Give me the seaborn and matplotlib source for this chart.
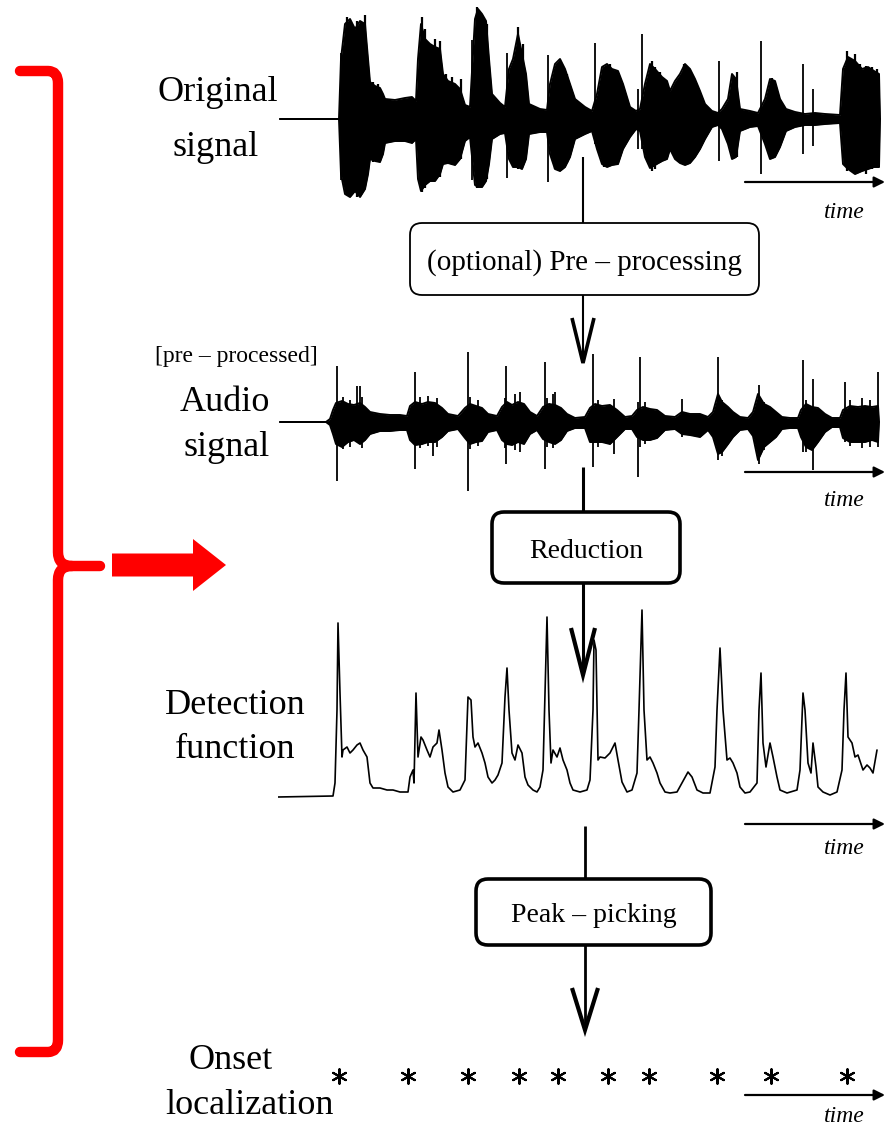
import numpy as np
import pandas as pd
import matplotlib
matplotlib.use("Agg")
import matplotlib.pyplot as plt
import seaborn as sns
from matplotlib.patches import FancyBboxPatch, FancyArrow, PathPatch
from matplotlib.path import Path

# ---------------- data (time in centiseconds, amplitude in arbitrary units) ----------------
orig_t = [2, 61, 63, 67, 72, 77, 82, 87, 90, 92, 97, 102, 105, 107, 117, 127, 134, 138, 140, 143,
          147, 152, 157, 162, 165, 170, 177, 182, 187, 192, 197, 200, 204, 208, 211, 214, 222, 227,
          231, 235, 240, 244, 248, 251, 262, 269, 272, 277, 282, 287, 292, 297, 307, 314, 319, 324,
          329, 334, 340, 345, 352, 358, 362, 367, 372, 377, 384, 389, 392, 397, 402, 407, 412, 417,
          422, 427, 434, 440, 444, 450, 454, 458, 462, 472, 480, 487, 492, 497, 502, 508, 517, 527,
          537, 547, 562, 565, 570, 577, 584, 590, 596, 601, 602]
orig_top = [0, 0, 60, 95, 100, 90, 98, 95, 60, 37, 33, 31, 25, 20, 19, 21, 22, 18, 60, 95,
            80, 75, 72, 70, 45, 38, 35, 30, 14, 12, 100, 110, 105, 98, 60, 25, 16, 12,
            50, 60, 85, 65, 45, 15, 10, 9, 35, 55, 60, 50, 35, 20, 12, 8, 25, 52,
            55, 50, 48, 35, 12, 8, 10, 35, 55, 50, 42, 38, 28, 38, 45, 55, 50, 40,
            28, 15, 8, 6, 10, 20, 45, 40, 10, 8, 6, 20, 40, 38, 20, 10, 7, 5,
            6, 5, 4, 50, 62, 58, 50, 52, 48, 45, 0]
orig_bot = [0, 0, -55, -75, -78, -72, -78, -70, -55, -40, -42, -43, -35, -24, -22, -22, -24, -20, -60, -72,
            -66, -62, -62, -55, -45, -44, -46, -40, -22, -18, -66, -68, -68, -62, -45, -20, -15, -14,
            -40, -48, -48, -50, -40, -15, -13, -13, -35, -50, -52, -48, -38, -20, -15, -12, -30, -45,
            -48, -46, -45, -30, -18, -10, -12, -38, -49, -46, -42, -40, -30, -40, -44, -46, -44, -38,
            -30, -20, -8, -6, -10, -25, -40, -38, -12, -8, -7, -25, -40, -38, -28, -12, -8, -6,
            -6, -5, -4, -45, -50, -55, -52, -50, -48, -48, 0]
orig_spike_t = [63, 194, 229, 270, 317, 360, 364, 441, 483, 525, 535]
orig_spike_top = [66, 79, 66, 64, 76, 30, 85, 58, 78, 55, 30]
orig_spike_bot = [-61, -61, -59, -63, -25, -30, -30, -42, -55, -35, -27]
# short hairs inside the bursts
orig_hair_t = [69, 75, 79, 82, 87, 95, 100, 144, 147, 157, 162, 168, 174, 183, 199, 202, 205, 209,
               240, 245, 277, 282, 289, 326, 332, 374, 377, 382, 406, 459, 494, 569, 577, 582,
               588, 594, 599]
orig_hair_top = [102, 90, 98, 85, 104, 37, 35, 102, 90, 80, 78, 45, 42, 40, 112, 104, 100, 95,
                 92, 75, 50, 57, 45, 50, 55, 58, 52, 47, 55, 47, 41, 68, 65, 55, 53, 52, 50]
orig_hair_bot = [-76, -70, -78, -72, -65, -43, -40, -73, -69, -60, -58, -44, -46, -40, -69, -64, -66, -60,
                 -50, -45, -50, -52, -44, -48, -45, -52, -50, -44, -44, -38, -30, -52, -55, -50,
                 -55, -50, -48]

audio_t = [2, 48, 52, 55, 58, 64, 70, 76, 82, 87, 92, 102, 112, 122, 129, 132, 137, 144, 150, 157,
           164, 170, 180, 187, 192, 198, 204, 210, 219, 224, 229, 234, 240, 246, 252, 259, 265, 271,
           277, 283, 289, 297, 307, 312, 317, 324, 332, 339, 347, 354, 359, 365, 372, 379, 387, 397,
           404, 412, 422, 430, 435, 440, 444, 450, 455, 462, 470, 475, 480, 486, 492, 498, 504, 512,
           520, 523, 528, 534, 540, 547, 554, 562, 565, 572, 580, 587, 594, 600, 601]
audio_top = [0, 0, 3, 12, 19, 21, 18, 17, 19, 15, 10, 8, 7, 7, 6, 16, 20, 18, 20, 19,
             14, 8, 6, 14, 18, 16, 14, 8, 6, 15, 20, 17, 20, 18, 10, 6, 15, 18,
             17, 14, 8, 4, 5, 14, 18, 16, 17, 12, 5, 6, 12, 15, 13, 12, 6, 5,
             10, 8, 8, 5, 10, 28, 20, 15, 10, 5, 4, 10, 28, 18, 15, 10, 5, 4,
             4, 12, 18, 15, 14, 8, 4, 4, 12, 16, 15, 16, 15, 16, 0]
audio_bot = [0, 0, -3, -12, -22, -25, -20, -18, -22, -18, -12, -9, -9, -8, -8, -18, -23, -22, -20, -20,
             -15, -9, -7, -16, -22, -20, -19, -10, -8, -18, -22, -23, -20, -22, -12, -8, -17, -20,
             -22, -18, -9, -6, -6, -20, -20, -20, -22, -15, -7, -7, -15, -18, -18, -16, -8, -7,
             -12, -13, -15, -8, -15, -32, -30, -22, -15, -8, -7, -14, -38, -25, -20, -15, -7, -6,
             -6, -15, -25, -28, -20, -10, -5, -5, -16, -20, -20, -20, -18, -20, 0]
audio_spike_t = [59, 79, 82, 137, 155, 190, 228, 267, 277, 315, 336, 360, 362, 404, 440, 481, 525, 535, 567, 600]
audio_spike_top = [56, 36, 36, 50, 20, 70, 56, 60, 30, 68, 23, 20, 65, 23, 65, 37, 62, 43, 40, 50]
audio_spike_bot = [-59, -20, -20, -47, -34, -69, -42, -47, -20, -45, -32, -55, -25, -15, -38, -42, -30, -48, -20, -25]
audio_hair_t = [65, 72, 84, 142, 150, 159, 192, 200, 227, 237, 242, 269, 275, 320, 367, 444, 486, 528, 572, 584, 592]
audio_hair_top = [25, 22, 25, 25, 26, 24, 25, 22, 24, 28, 30, 24, 28, 22, 20, 22, 20, 22, 22, 24, 22]
audio_hair_bot = [-27, -25, -26, -26, -24, -25, -27, -24, -26, -28, -30, -25, -26, -25, -22, -34, -28, -30, -24, -26, -25]

det_t = [0, 55, 57, 59, 60, 62, 64, 65, 69, 72, 75, 79, 82, 85, 89, 92, 95, 102, 109, 115,
         122, 130, 132, 135, 136, 138, 140, 143, 145, 149, 152, 155, 159, 161, 164, 167, 170, 175,
         182, 187, 190, 193, 195, 197, 200, 204, 207, 210, 214, 217, 220, 224, 227, 229, 231, 234,
         237, 240, 244, 247, 250, 255, 259, 262, 265, 267, 269, 271, 273, 275, 279, 282, 285, 289,
         292, 295, 302, 309, 312, 315, 316, 318, 320, 322, 327, 332, 337, 340, 344, 349, 354, 359,
         361, 364, 366, 369, 372, 375, 379, 382, 387, 392, 399, 404, 410, 414, 419, 425, 432, 437,
         439, 442, 445, 449, 452, 455, 459, 462, 467, 472, 479, 481, 483, 485, 488, 492, 495, 499,
         502, 509, 519, 522, 525, 527, 530, 533, 535, 538, 540, 545, 552, 559, 564, 566, 568, 570,
         574, 577, 580, 585, 589, 592, 595, 599]
det_val = [0, 1, 14, 87, 174, 104, 40, 47, 50, 44, 47, 52, 54, 47, 40, 14, 9, 9, 7, 7,
           5, 5, 20, 27, 14, 104, 40, 60, 57, 47, 40, 50, 54, 67, 47, 24, 10, 5,
           7, 17, 100, 97, 60, 50, 54, 44, 34, 20, 14, 17, 22, 34, 100, 129, 87, 44,
           37, 52, 44, 20, 12, 7, 5, 10, 27, 104, 180, 87, 34, 47, 40, 49, 37, 27,
           14, 7, 5, 7, 17, 87, 157, 147, 37, 40, 39, 44, 54, 37, 15, 5, 7, 24,
           87, 187, 87, 37, 40, 34, 24, 14, 5, 4, 5, 14, 25, 20, 7, 4, 4, 30,
           87, 149, 87, 37, 39, 34, 24, 10, 4, 5, 14, 87, 124, 54, 30, 54, 40, 20,
           7, 4, 7, 27, 104, 87, 34, 24, 54, 30, 10, 5, 2, 5, 27, 87, 124, 60,
           54, 40, 42, 27, 32, 29, 24, 47]

onset_t = [61, 130, 190, 241, 280, 330, 371, 439, 493, 569]
onset_y = [0, 0, 0, 0, 0, 0, 0, 0, 0, 0]

box_labels = ["(optional) Pre – processing", "Reduction", "Peak – picking"]

# ---------------- figure ----------------
sns.set_style("white")
plt.rcParams['font.family'] = ['Liberation Serif', 'DejaVu Serif']
plt.rcParams['text.color'] = 'black'

W, H = 886, 1127
fig = plt.figure(figsize=(W / 100, H / 100), dpi=100)
bg = fig.add_axes([0, 0, 1, 1])
bg.set_xlim(0, W)
bg.set_ylim(H, 0)
bg.axis('off')


def panel(top, bottom, ylo, yhi):
    ax = fig.add_axes([278 / W, 1 - bottom / H, 608 / W, (bottom - top) / H])
    ax.set_xlim(0, 608)
    ax.set_ylim(ylo, yhi)
    ax.axis('off')
    ax.patch.set_visible(False)
    return ax


# original signal
ax1 = panel(0, 210, -91, 119)
ax1.fill_between(orig_t, orig_bot, orig_top, color='black', lw=0)
sns.lineplot(x=orig_t, y=orig_top, ax=ax1, color='black', lw=1.4, sort=False, estimator=None)
sns.lineplot(x=orig_t, y=orig_bot, ax=ax1, color='black', lw=1.4, sort=False, estimator=None)
ax1.vlines(orig_spike_t, orig_spike_bot, orig_spike_top, color='black', lw=1.3)
ax1.vlines(orig_hair_t, orig_hair_bot, orig_hair_top, color='black', lw=1.6)

# pre-processed audio signal
ax2 = panel(340, 500, -78, 82)
ax2.fill_between(audio_t, audio_bot, audio_top, color='black', lw=0)
sns.lineplot(x=audio_t, y=audio_top, ax=ax2, color='black', lw=1.4, sort=False, estimator=None)
sns.lineplot(x=audio_t, y=audio_bot, ax=ax2, color='black', lw=1.4, sort=False, estimator=None)
ax2.vlines(audio_spike_t, audio_spike_bot, audio_spike_top, color='black', lw=1.3)
ax2.vlines(audio_hair_t, audio_hair_bot, audio_hair_top, color='black', lw=1.3)

# detection function
ax3 = panel(600, 810, -13, 197)
sns.lineplot(x=det_t, y=det_val, ax=ax3, color='black', lw=1.2, sort=False, estimator=None)

# onsets
ax4 = panel(1060, 1092, -16, 16)
sns.scatterplot(x=onset_t, y=onset_y, ax=ax4, marker=(6, 2, 0), s=110,
                color='black', edgecolor='black', linewidth=1.5)
ax4.set_xlim(0, 608)
ax4.set_ylim(-16, 16)
ax4.axis('off')

# ---------------- annotations ----------------
fs_lab = 26
bg.text(218, 101, "Original", fontsize=fs_lab, ha='center', va='baseline')
bg.text(216, 156, "signal", fontsize=fs_lab, ha='center', va='baseline')
bg.text(236, 362, "[pre – processed]", fontsize=17, ha='center', va='baseline')
bg.text(225, 411, "Audio", fontsize=fs_lab, ha='center', va='baseline')
bg.text(227, 456, "signal", fontsize=fs_lab, ha='center', va='baseline')
bg.text(235, 714, "Detection", fontsize=fs_lab, ha='center', va='baseline')
bg.text(235, 758, "function", fontsize=fs_lab, ha='center', va='baseline')
bg.text(231, 1069, "Onset", fontsize=fs_lab, ha='center', va='baseline')
bg.text(249, 1114, "localization", fontsize=fs_lab, ha='center', va='baseline')

# time arrows
for ya, yt in [(182, 212), (472, 500), (824, 848), (1095, 1117)]:
    bg.annotate('', xy=(885, ya), xytext=(745, ya),
                arrowprops=dict(arrowstyle='-|>', color='black', lw=1.6,
                                mutation_scale=16, shrinkA=0, shrinkB=0))
    bg.text(844, yt, "time", fontsize=17, style='italic', ha='center', va='center')

# boxes
boxes = [(410, 223, 349, 72, 1.3, box_labels[0], 21),
         (492, 512, 188, 71, 2.6, box_labels[1], 20),
         (476, 879, 235, 66, 2.6, box_labels[2], 20)]
for x0, y0, w, h, lw, lab, fs in boxes:
    bg.add_patch(FancyBboxPatch((x0, y0), w, h, boxstyle="round,pad=0,rounding_size=12",
                                fc='white', ec='black', lw=lw, zorder=3))
    bg.text(x0 + w / 2, y0 + h / 2 + 4, lab, fontsize=fs, ha='center', va='center', zorder=4)

# flow lines and open arrowheads
flow = [((583, 157), (583, 223), 1.5), ((583, 295), (583, 362), 1.5),
        ((583, 467), (583, 512), 2.2), ((583, 583), (583, 674), 2.2),
        ((585, 826), (585, 879), 2.0), ((585, 945), (585, 1029), 2.0)]
for (xa, ya), (xb, yb), lw in flow:
    bg.plot([xa, xb], [ya, yb], color='black', lw=lw, solid_capstyle='butt')
heads = [(583, 318, 363, 11, 2.6), (583, 628, 675, 12, 3.0), (585, 988, 1030, 13, 3.0)]
for xc, ytop, ytip, hw, lw in heads:
    bg.plot([xc - hw, xc, xc + hw], [ytop, ytip, ytop], color='black', lw=lw,
            solid_joinstyle='miter', solid_capstyle='butt')

# red bracket
red = '#ff0000'
v1 = [(20, 71), (48, 71), (58, 71), (58, 83), (58, 552), (58, 566), (72, 566), (100, 566)]
c1 = [Path.MOVETO, Path.LINETO, Path.CURVE3, Path.CURVE3, Path.LINETO, Path.CURVE3, Path.CURVE3, Path.LINETO]
v2 = [(72, 566), (58, 566), (58, 580), (58, 1040), (58, 1052), (48, 1052), (20, 1052)]
c2 = [Path.MOVETO, Path.CURVE3, Path.CURVE3, Path.LINETO, Path.CURVE3, Path.CURVE3, Path.LINETO]
for v, c in [(v1, c1), (v2, c2)]:
    bg.add_patch(PathPatch(Path(v, c), fill=False, ec=red, lw=7.5, capstyle='round', joinstyle='round'))

bg.add_patch(FancyArrow(112, 565, 114, 0, width=23, head_width=52, head_length=33,
                        length_includes_head=True, color=red, lw=0))

fig.savefig("out.png", dpi=100)
